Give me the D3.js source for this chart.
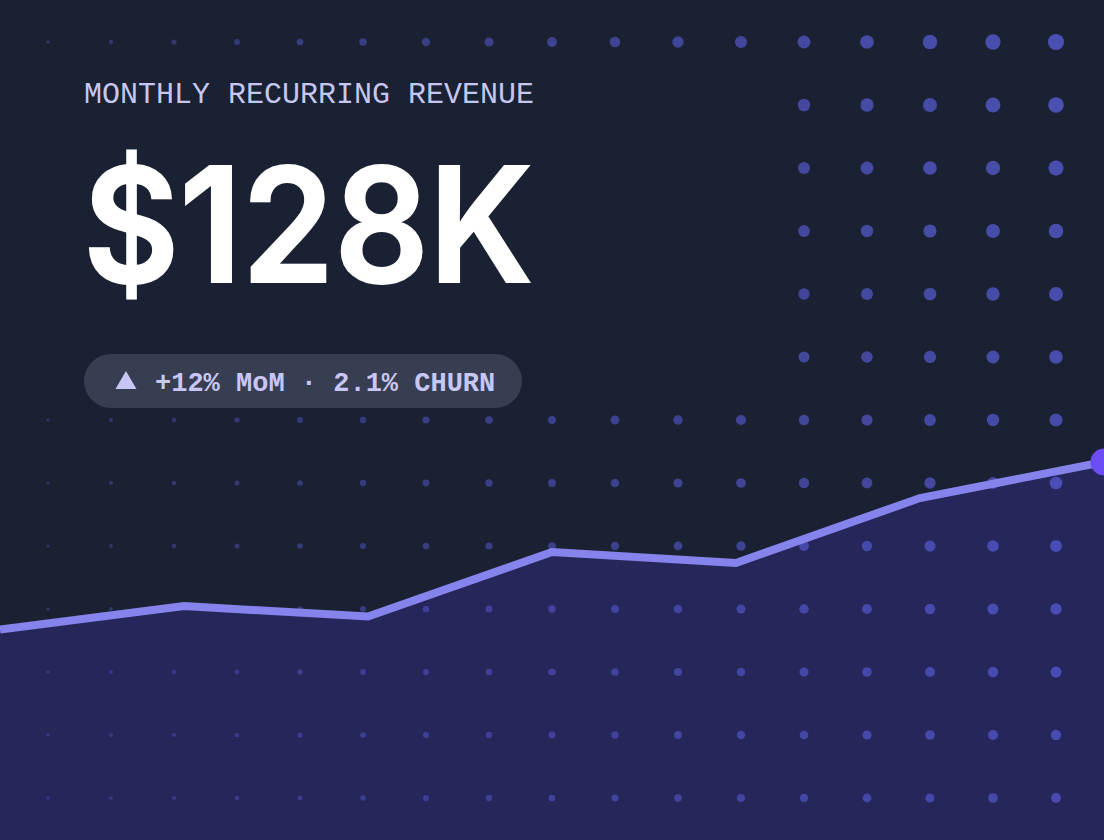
<!DOCTYPE html>
<html>
<head>
<meta charset="utf-8">
<script src="https://cdn.jsdelivr.net/npm/d3@7"></script>
<style>
  html, body { margin: 0; padding: 0; background: #1a2132; }
  svg { display: block; }
</style>
</head>
<body>
<svg id="chart" width="1104" height="840"></svg>
<script>
// MRR by month, in $K
var months = ["Jan", "Feb", "Mar", "Apr", "May", "Jun", "Jul"];
var mrr = [71.3, 79.2, 75.7, 97.5, 93.8, 115.8, 128];

var title = "MONTHLY RECURRING REVENUE";
var headline = "$128K";
var badge = "+12% MoM \u00b7 2.1% CHURN";

var W = 1104, H = 840,
    bg = "#1a2132";

var svg = d3.select("#chart");

var x = d3.scalePoint()
    .domain(months)
    .range([0, W]);

var y = d3.scaleLinear()
    .domain([0, 128])
    .range([H, 462]);

svg.append("rect")
    .attr("width", W)
    .attr("height", H)
    .attr("fill", bg);

// area under the line
var area = d3.area()
    .x(function (d, i) { return x(months[i]); })
    .y0(H)
    .y1(function (d) { return y(d); });

svg.append("path")
    .datum(mrr)
    .attr("d", area)
    .attr("fill", "#25265a");

// decorative dot grid, bigger and brighter toward the top right
var cols = d3.range(48, W, 63),
    rows = d3.range(42, H, 63),
    cells = [];
rows.forEach(function (r) {
  cols.forEach(function (c) { cells.push([c, r]); });
});

svg.append("g")
  .selectAll("circle")
    .data(cells)
  .enter().append("circle")
    .attr("cx", function (d) { return d[0]; })
    .attr("cy", function (d) { return d[1]; })
    .attr("r", function (d) {
      return 1.5 + 7 * (d[0] / W) * (1 - 0.5 * d[1] / H);
    })
    .attr("fill", "#6366f1")
    .attr("fill-opacity", function (d) {
      return 0.28 + 0.42 * (d[0] / W) * (1 - 0.3 * d[1] / H);
    });

var line = d3.line()
    .x(function (d, i) { return x(months[i]); })
    .y(function (d) { return y(d); });

svg.append("path")
    .datum(mrr)
    .attr("d", line)
    .attr("fill", "none")
    .attr("stroke", "#8684ec")
    .attr("stroke-width", 8)
    .attr("stroke-linejoin", "miter");

var last = mrr.length - 1;
svg.append("circle")
    .attr("cx", x(months[last]))
    .attr("cy", y(mrr[last]))
    .attr("r", 13.5)
    .attr("fill", "#6b4cf5");

// keep the heading area clear of dots
svg.append("rect")
    .attr("x", 0)
    .attr("y", 72)
    .attr("width", 772)
    .attr("height", 318)
    .attr("fill", bg);

svg.append("text")
    .attr("x", 84)
    .attr("y", 103)
    .attr("fill", "#c6c6f0")
    .style("font-family", "'Liberation Mono', 'DejaVu Sans Mono', monospace")
    .style("font-size", "30px")
    .text(title);

// headline, thickened a little with a stroke of the same colour
svg.append("text")
    .attr("x", 83)
    .attr("y", 282)
    .attr("fill", "#ffffff")
    .attr("stroke", "#ffffff")
    .attr("stroke-width", 2)
    .attr("stroke-linejoin", "miter")
    .attr("textLength", 450)
    .attr("lengthAdjust", "spacingAndGlyphs")
    .style("font-family", "Inter, 'Noto Sans', sans-serif")
    .style("font-weight", 600)
    .style("font-size", "159px")
    .text(headline);

// badge pill
var pill = svg.append("g");
pill.append("rect")
    .attr("x", 84)
    .attr("y", 354)
    .attr("width", 438)
    .attr("height", 54)
    .attr("rx", 27)
    .attr("fill", "#383e52");

pill.append("path")
    .attr("d", d3.symbol().type(d3.symbolTriangle).size(190))
    .attr("transform", "translate(126,383)")
    .attr("fill", "#c8c6f4");

pill.append("text")
    .attr("x", 155)
    .attr("y", 391)
    .attr("fill", "#c8c6f4")
    .style("font-family", "'Liberation Mono', 'DejaVu Sans Mono', monospace")
    .style("font-weight", 700)
    .style("font-size", "27px")
    .text(badge);
</script>
</body>
</html>
